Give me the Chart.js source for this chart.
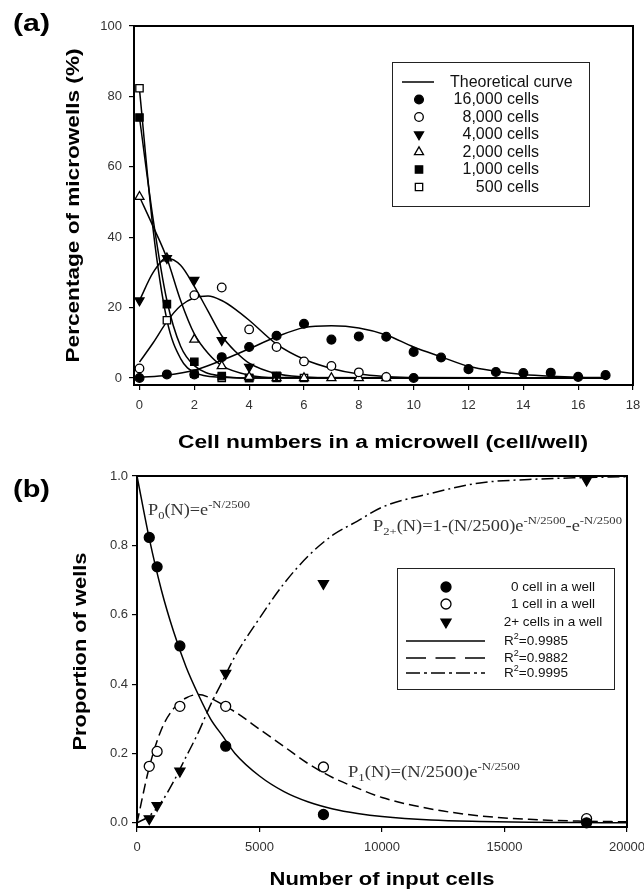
<!DOCTYPE html>
<html>
<head>
<meta charset="utf-8">
<script src="https://cdn.jsdelivr.net/npm/chart.js@4.4.0/dist/chart.umd.min.js"></script>
<style>
  html, body { margin: 0; padding: 0; background: #fff; }
  #wrap { position: relative; width: 644px; height: 892px; }
  .box { position: absolute; left: 0; width: 644px; }
</style>
</head>
<body>
<div id="wrap">
  <div class="box" style="top:0;height:462px"><canvas id="chartA" width="644" height="462"></canvas></div>
  <div class="box" style="top:462px;height:430px"><canvas id="chartB" width="644" height="430"></canvas></div>
</div>
<script>
// ---------- panel (a) data: % of microwells vs cells per well ----------
const aXTicks = [0, 2, 4, 6, 8, 10, 12, 14, 16, 18];
const aYTicks = [0, 20, 40, 60, 80, 100];

const a16kX = [0, 1, 2, 3, 4, 5, 6, 7, 8, 9, 10, 10, 11, 12, 13, 14, 15, 16, 17];
const a16kY = [0, 1, 1, 5.9, 8.8, 12, 15.4, 10.9, 11.8, 11.7, 7.4, 0, 5.8, 2.5, 1.7, 1.4, 1.5, 0.3, 0.8];
const a8kX = [0, 2, 3, 4, 5, 6, 7, 8, 9];
const a8kY = [2.7, 23.5, 25.7, 13.8, 8.8, 4.7, 3.4, 1.6, 0.3];
const a4kX = [0, 1, 2, 3, 4, 5];
const a4kY = [22, 34, 27.8, 10.7, 3.1, 0.6];
const a2kX = [0, 1, 2, 3, 4, 5, 6, 7, 8, 9];
const a2kY = [51.5, 34, 10.9, 3.4, 0.3, 0, 0, 0, 0, 0];
const a1kX = [0, 1, 2, 3, 4, 5];
const a1kY = [74, 21, 4.6, 0.5, 0, 0.6];
const a500X = [0, 1, 2, 3, 4, 5, 6];
const a500Y = [82.3, 16.4, 1.2, 0, 0, 0, 0];

// theoretical curves
const t16kX = [0, 1, 2, 3, 4, 5, 6, 7, 8, 9, 10, 11, 12, 13, 14, 15, 16, 17];
const t16kY = [0.2, 0.8, 2.2, 5, 8.3, 11.7, 14.3, 14.8, 14.2, 12.2, 8.8, 6, 3.3, 1.9, 1, 0.5, 0.2, 0.1];
const t8kX = [0, 0.5, 1, 1.5, 2, 2.5, 3, 3.5, 4, 5, 6, 7, 8, 9, 10, 17];
const t8kY = [4.5, 10, 16, 20.5, 22.8, 23.3, 22, 19.5, 16.4, 9.6, 5.3, 2.7, 1.1, 0.4, 0.1, 0];
const t4kX = [0, 0.5, 1, 1.5, 2, 2.5, 3, 3.5, 4, 5, 6, 7, 17];
const t4kY = [22, 30, 34, 32, 26, 19, 12, 7.5, 4.2, 1.2, 0.3, 0, 0];
const t2kX = [0, 0.5, 1, 1.5, 2, 2.5, 3, 4, 5, 17];
const t2kY = [51.5, 43, 34, 22, 12.5, 7, 3.5, 0.8, 0.1, 0];
const t1kX = [0, 0.5, 1, 1.5, 2, 3, 4, 17];
const t1kY = [74, 45, 22, 9, 3.5, 0.5, 0, 0];
const t500X = [0, 0.5, 1, 1.5, 2, 3, 4, 17];
const t500Y = [82, 42, 16.5, 5.5, 1.6, 0.2, 0, 0];

// ---------- panel (b) data: proportion of wells vs input cells ----------
const bXTicks = [0, 5000, 10000, 15000, 20000];
const bYTicks = [0, 0.2, 0.4, 0.6, 0.8, 1.0];

const bInputX = [500, 820, 1750, 3620, 7610, 18350];
const bZeroY = [0.823, 0.738, 0.51, 0.221, 0.024, 0.0];
const bOneY = [0.163, 0.206, 0.336, 0.336, 0.161, 0.012];
const bTwoY = [0.012, 0.05, 0.149, 0.431, 0.69, 0.988];

const fitX = [0, 500, 1000, 1500, 2000, 2500, 3000, 3500, 4000, 5000, 6000, 7000, 8000, 9000, 10000, 12000, 14000, 16000, 18000, 20000];
const fitZeroY = [1, 0.82, 0.67, 0.55, 0.45, 0.37, 0.3, 0.25, 0.2, 0.135, 0.09, 0.06, 0.04, 0.027, 0.018, 0.008, 0.004, 0.002, 0.001, 0];
const fitOneY = [0, 0.16, 0.27, 0.33, 0.36, 0.37, 0.36, 0.34, 0.32, 0.27, 0.22, 0.17, 0.13, 0.1, 0.073, 0.04, 0.02, 0.01, 0.005, 0.003];
const fitTwoY = [0, 0.02, 0.06, 0.12, 0.19, 0.26, 0.34, 0.41, 0.48, 0.59, 0.69, 0.77, 0.83, 0.87, 0.91, 0.95, 0.98, 0.99, 0.995, 0.998];

// ---------- helpers ----------
const sans = '"Liberation Sans", Arial, sans-serif';
const serif = '"Liberation Serif", "DejaVu Serif", serif';

function pts(xs, ys) { return xs.map((x, i) => ({ x: x, y: ys[i] })); }

function scatterSet(m, xs, ys) {
  return {
    data: pts(xs, ys), showLine: false, clip: false,
    pointStyle: m.style, pointRotation: m.rot, pointRadius: m.r,
    pointBackgroundColor: m.fill, pointBorderColor: '#000', pointBorderWidth: 1.3
  };
}
function curveSet(xs, ys, dash) {
  return {
    data: pts(xs, ys), showLine: true, pointRadius: 0, clip: false,
    borderColor: '#000', borderWidth: 1.5, borderDash: dash || [],
    cubicInterpolationMode: 'monotone', fill: false
  };
}

function marker(ctx, m, x, y) {
  ctx.save();
  ctx.fillStyle = m.fill; ctx.strokeStyle = '#000'; ctx.lineWidth = 1.3;
  Chart.helpers.drawPoint(ctx, { pointStyle: m.style, rotation: m.rot, radius: m.r, borderWidth: 1.3 }, x, y);
  ctx.restore();
}

// bold titles are wider than Arial Bold in the picture, so stretch to width
function stretchText(ctx, text, x, y, width, font, rot) {
  ctx.save();
  ctx.font = font;
  ctx.fillStyle = '#000';
  const w = ctx.measureText(text).width;
  ctx.translate(x, y);
  if (rot) ctx.rotate(rot);
  ctx.scale(width / w, 1);
  ctx.textAlign = 'center'; ctx.textBaseline = 'alphabetic';
  ctx.fillText(text, 0, 0);
  ctx.restore();
}

// formula text: segments of [text, 'n' | 'sub' | 'sup']
function mathText(ctx, segs, x, y, width) {
  const size = { n: 16, sub: 11, sup: 11 };
  const dy = { n: 0, sub: 4, sup: -7 };
  ctx.save();
  let total = 0;
  segs.forEach(s => { ctx.font = size[s[1]] + 'px ' + serif; total += ctx.measureText(s[0]).width; });
  ctx.translate(x, y);
  ctx.scale(width / total, 1);
  ctx.fillStyle = '#333'; ctx.textAlign = 'left'; ctx.textBaseline = 'alphabetic';
  let cx = 0;
  segs.forEach(s => {
    ctx.font = size[s[1]] + 'px ' + serif;
    ctx.fillText(s[0], cx, dy[s[1]]);
    cx += ctx.measureText(s[0]).width;
  });
  ctx.restore();
}

function frame(ctx, a) {
  ctx.save();
  ctx.strokeStyle = '#000'; ctx.lineWidth = 2;
  ctx.strokeRect(a.left, a.top, a.right - a.left, a.bottom - a.top);
  ctx.restore();
}

function axisOpts(min, max, tickVals, fmt, pad, fitFn) {
  return {
    type: 'linear', min: min, max: max,
    afterBuildTicks: s => { s.ticks = tickVals.map(v => ({ value: v })); },
    afterFit: fitFn,
    ticks: { autoSkip: false, maxRotation: 0, color: '#333', padding: pad, font: { family: sans, size: 13 }, callback: fmt },
    grid: { drawOnChartArea: false, drawTicks: true, tickLength: 5, color: '#000', lineWidth: 1.2 },
    border: { display: true, color: '#000', width: 2 }
  };
}

// ---------- panel (a) ----------
const marksA = [
  { label: '16,000 cells', style: 'circle', rot: 0, fill: '#000', r: 4.4 },
  { label: '8,000 cells', style: 'circle', rot: 0, fill: '#fff', r: 4.3 },
  { label: '4,000 cells', style: 'triangle', rot: 180, fill: '#000', r: 5.2 },
  { label: '2,000 cells', style: 'triangle', rot: 0, fill: '#fff', r: 5.2 },
  { label: '1,000 cells', style: 'rect', rot: 0, fill: '#000', r: 5.2 },
  { label: '500 cells', style: 'rect', rot: 0, fill: '#fff', r: 5.2 }
];
const obsA = [[a16kX, a16kY], [a8kX, a8kY], [a4kX, a4kY], [a2kX, a2kY], [a1kX, a1kY], [a500X, a500Y]];
const theoA = [[t16kX, t16kY], [t8kX, t8kY], [t4kX, t4kY], [t2kX, t2kY], [t1kX, t1kY], [t500X, t500Y]];

const decorA = {
  id: 'decorA',
  afterDraw(chart) {
    const ctx = chart.ctx;
    frame(ctx, chart.chartArea);
    // legend box
    ctx.save();
    ctx.strokeStyle = '#222'; ctx.lineWidth = 1;
    ctx.strokeRect(392.5, 62.5, 197, 144);
    const rows = [82, 99.5, 117, 134.5, 152, 169.5, 187];
    ctx.beginPath(); ctx.lineWidth = 1.5; ctx.strokeStyle = '#000';
    ctx.moveTo(402, rows[0]); ctx.lineTo(434, rows[0]); ctx.stroke();
    ctx.fillStyle = '#111'; ctx.font = '16px ' + sans; ctx.textBaseline = 'middle';
    ctx.textAlign = 'left';
    ctx.fillText('Theoretical curve', 450, rows[0] + 0.5);
    ctx.textAlign = 'right';
    marksA.forEach((m, i) => {
      marker(ctx, m, 419, rows[i + 1]);
      ctx.fillStyle = '#111';
      ctx.fillText(m.label, 539, rows[i + 1] + 0.5);
    });
    ctx.restore();
    stretchText(ctx, '(a)', 31.5, 31, 37, 'bold 23px ' + sans);
    stretchText(ctx, 'Cell numbers in a microwell (cell/well)', 383, 448, 410, 'bold 18px ' + sans);
    stretchText(ctx, 'Percentage of microwells (%)', 79, 205.5, 314, 'bold 18px ' + sans, -Math.PI / 2);
  }
};

new Chart(document.getElementById('chartA'), {
  type: 'scatter',
  data: {
    datasets: obsA.map((d, i) => scatterSet(marksA[i], d[0], d[1]))
      .concat(theoA.map(d => curveSet(d[0], d[1])))
  },
  options: {
    responsive: false, animation: false, events: [],
    layout: { padding: { top: 26, right: 11, left: 0, bottom: 0 } },
    plugins: { legend: { display: false }, tooltip: { enabled: false } },
    scales: {
      x: axisOpts(-0.2, 18, aXTicks, v => String(v), 8, s => { s.height = 77; s.paddingLeft = 0; s.paddingRight = 0; }),
      y: axisOpts(-2, 100, aYTicks, v => String(v), 7, s => { s.width = 134; s.paddingTop = 0; s.paddingBottom = 0; })
    }
  },
  plugins: [decorA]
});

// ---------- panel (b) ----------
const marksB = [
  { label: '0 cell in a well', style: 'circle', rot: 0, fill: '#000', r: 5 },
  { label: '1 cell in a well', style: 'circle', rot: 0, fill: '#fff', r: 5 },
  { label: '2+ cells in a well', style: 'triangle', rot: 180, fill: '#000', r: 5.8 }
];
const fitsB = [
  { r2: '=0.9985', dash: [], legDash: [] },
  { r2: '=0.9882', dash: [10, 5], legDash: [20, 9.5] },
  { r2: '=0.9995', dash: [12, 4, 2, 4], legDash: [14, 4, 3, 4] }
];

const decorB = {
  id: 'decorB',
  afterDraw(chart) {
    const ctx = chart.ctx;
    frame(ctx, chart.chartArea);
    ctx.save();
    ctx.strokeStyle = '#222'; ctx.lineWidth = 1;
    ctx.strokeRect(397.5, 106.5, 217, 121);
    const rows = [125, 142, 160, 179, 196, 211];
    ctx.font = '13.5px ' + sans; ctx.textBaseline = 'middle';
    marksB.forEach((m, i) => {
      marker(ctx, m, 446, rows[i]);
      ctx.fillStyle = '#111'; ctx.textAlign = 'center';
      ctx.fillText(m.label, 553, rows[i] + 0.5);
    });
    fitsB.forEach((f, i) => {
      const y = rows[i + 3];
      ctx.beginPath(); ctx.setLineDash(f.legDash); ctx.lineWidth = 1.5; ctx.strokeStyle = '#000';
      ctx.moveTo(406, y); ctx.lineTo(485, y); ctx.stroke();
      ctx.setLineDash([]);
      ctx.fillStyle = '#111'; ctx.textAlign = 'left';
      ctx.font = '13.5px ' + sans;
      ctx.fillText('R', 504, y + 0.5);
      const rw = ctx.measureText('R').width;
      ctx.font = '9px ' + sans;
      ctx.fillText('2', 504 + rw, y - 4);
      const tw = ctx.measureText('2').width;
      ctx.font = '13.5px ' + sans;
      ctx.fillText(f.r2, 504 + rw + tw, y + 0.5);
    });
    ctx.restore();
    mathText(ctx, [['P', 'n'], ['0', 'sub'], ['(N)=e', 'n'], ['-N/2500', 'sup']], 148, 53, 102);
    mathText(ctx, [['P', 'n'], ['2+', 'sub'], ['(N)=1-(N/2500)e', 'n'], ['-N/2500', 'sup'], ['-e', 'n'], ['-N/2500', 'sup']], 373, 69, 249);
    mathText(ctx, [['P', 'n'], ['1', 'sub'], ['(N)=(N/2500)e', 'n'], ['-N/2500', 'sup']], 348, 315, 172);
    stretchText(ctx, '(b)', 31.5, 35, 37, 'bold 23px ' + sans);
    stretchText(ctx, 'Number of input cells', 382, 423, 225, 'bold 18px ' + sans);
    stretchText(ctx, 'Proportion of wells', 86, 189.5, 198, 'bold 18px ' + sans, -Math.PI / 2);
  }
};

const obsB = [bZeroY, bOneY, bTwoY];
const fitB = [fitZeroY, fitOneY, fitTwoY];

new Chart(document.getElementById('chartB'), {
  type: 'scatter',
  data: {
    datasets: obsB.map((ys, i) => scatterSet(marksB[i], bInputX, ys))
      .concat(fitB.map((ys, i) => curveSet(fitX, ys, fitsB[i].dash)))
  },
  options: {
    responsive: false, animation: false, events: [],
    layout: { padding: { top: 14, right: 17, left: 0, bottom: 0 } },
    plugins: { legend: { display: false }, tooltip: { enabled: false } },
    scales: {
      x: axisOpts(0, 20000, bXTicks, v => String(v), 8, s => { s.height = 65; s.paddingLeft = 0; s.paddingRight = 0; }),
      y: axisOpts(-0.012, 1.0, bYTicks, v => v.toFixed(1), 4, s => { s.width = 137; s.paddingTop = 0; s.paddingBottom = 0; })
    }
  },
  plugins: [decorB]
});
</script>
</body>
</html>
